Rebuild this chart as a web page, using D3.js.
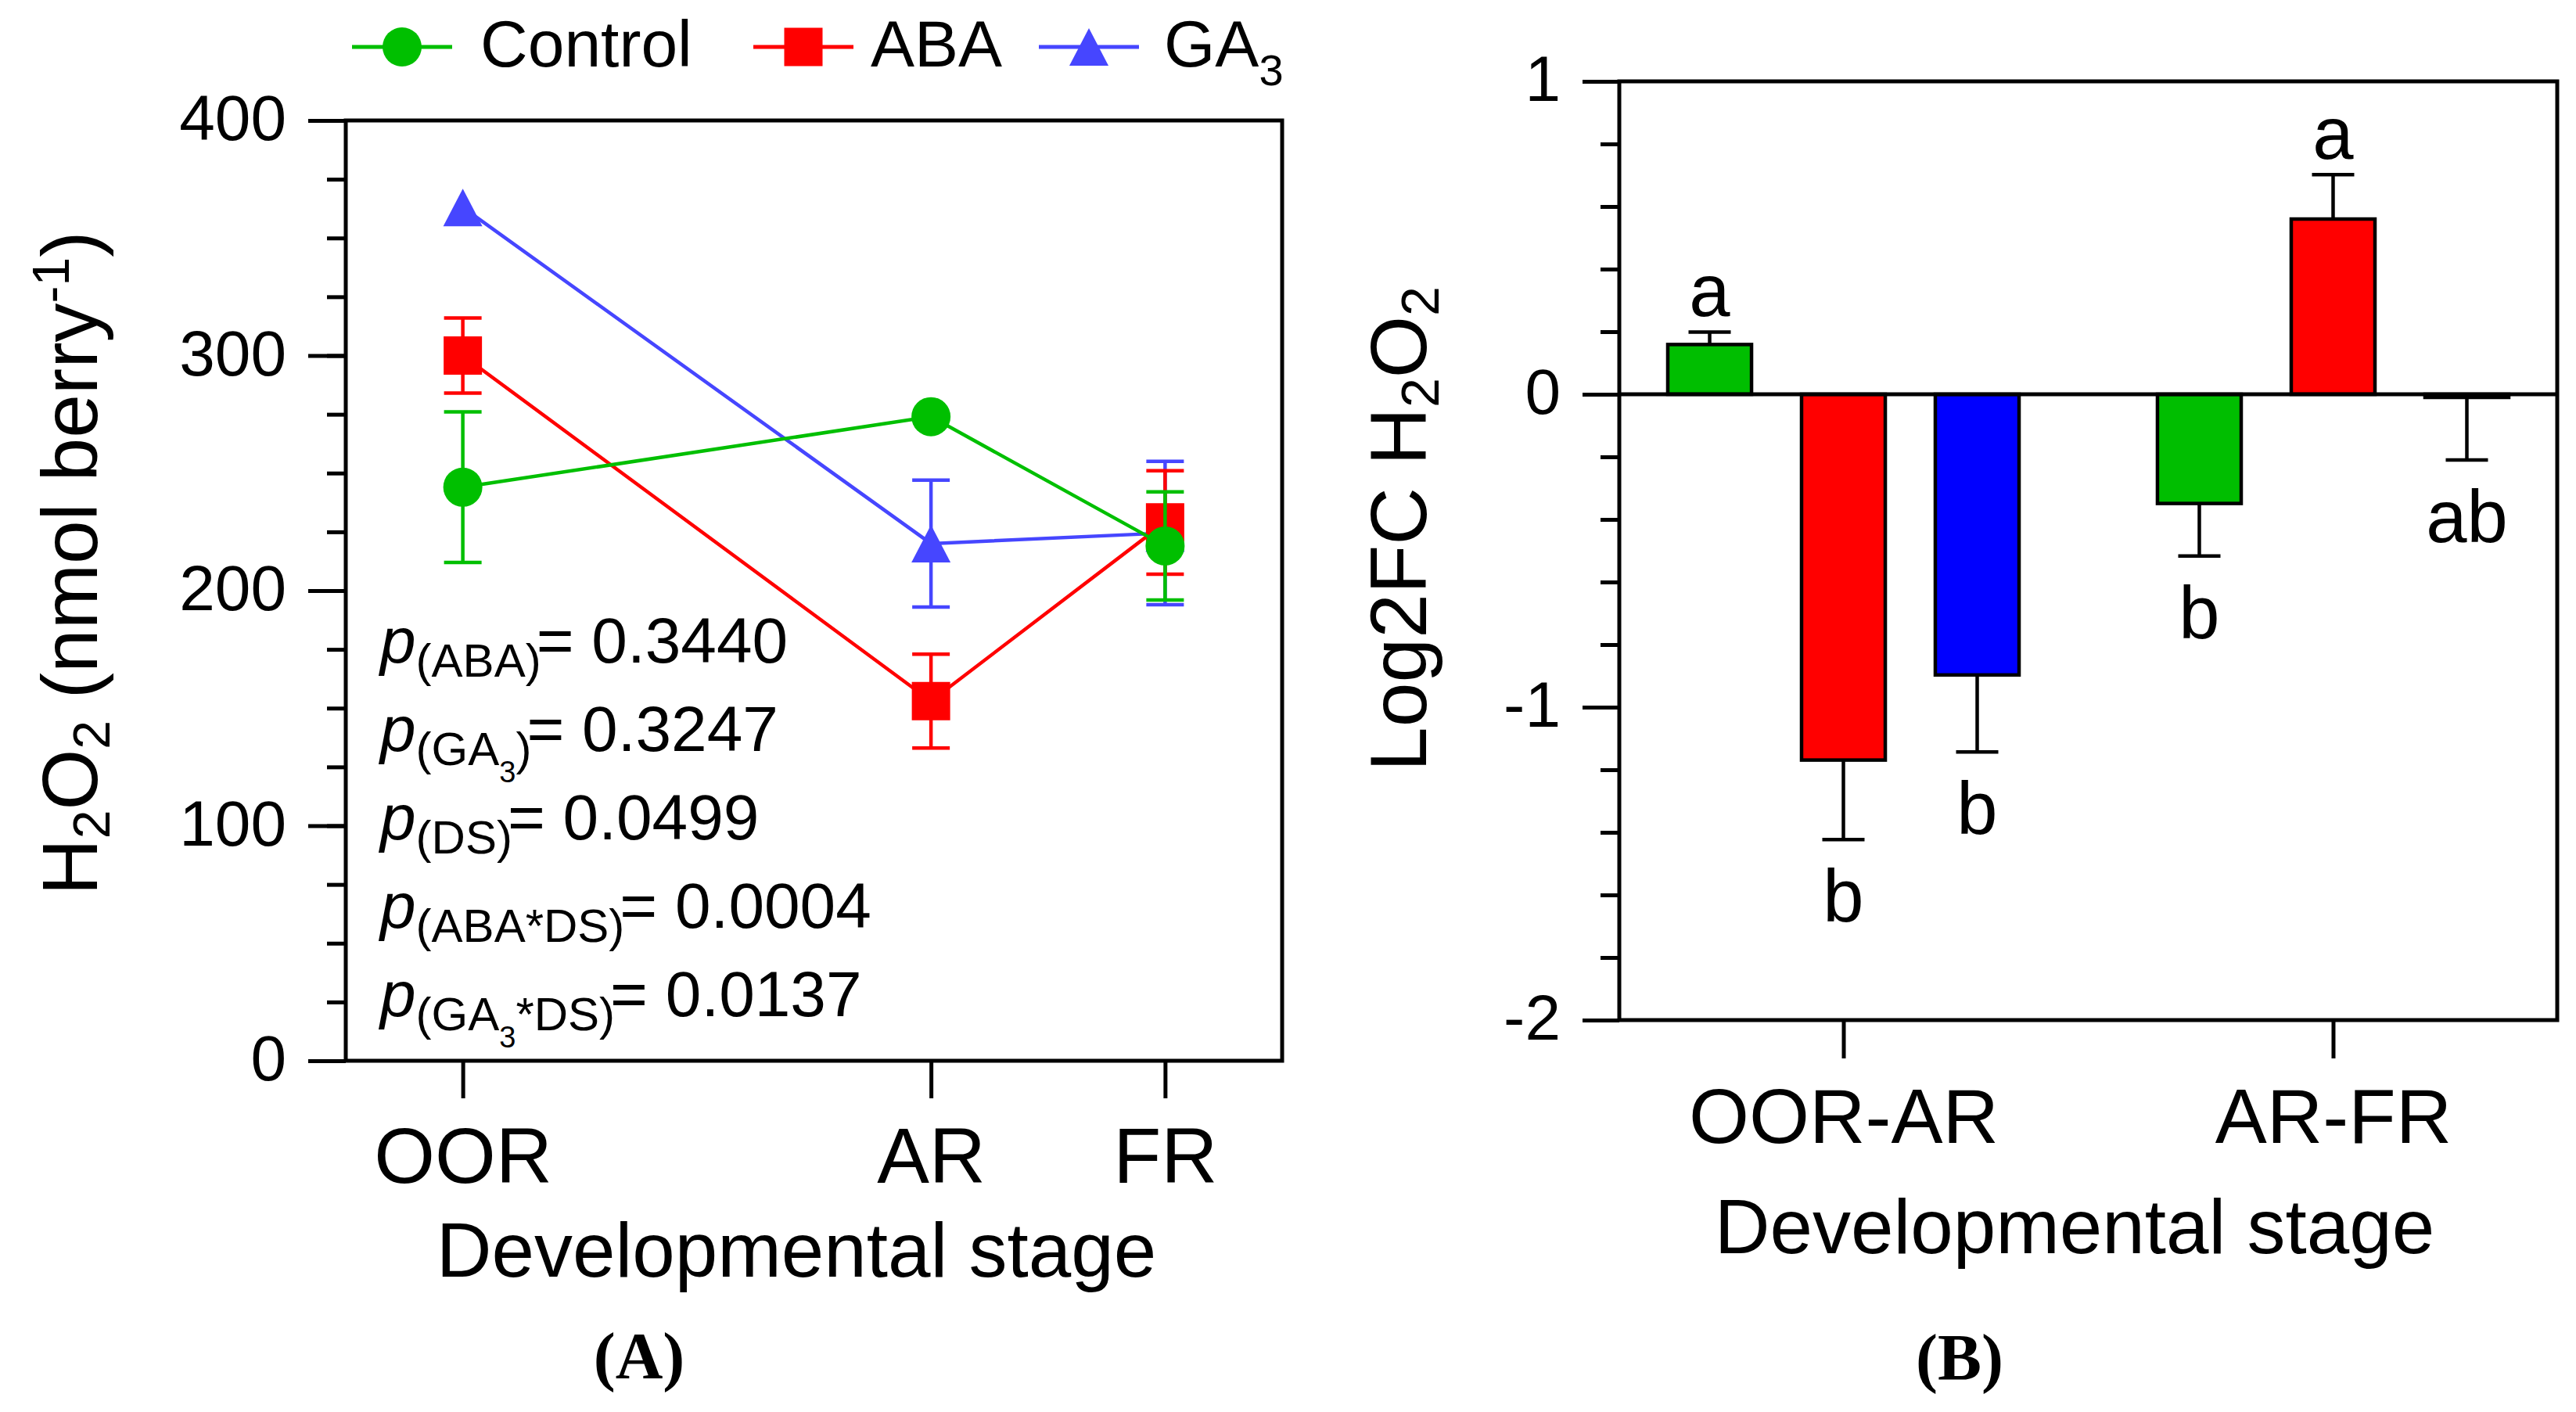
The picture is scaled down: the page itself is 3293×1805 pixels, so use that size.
<!DOCTYPE html>
<html><head><meta charset="utf-8">
<script src="https://cdn.jsdelivr.net/npm/d3@7"></script>
<style>
body{margin:0;background:#fff}
svg{font-family:"Liberation Sans",Arial,sans-serif}
</style>
</head><body>
<svg id="c" width="3293" height="1805" xmlns="http://www.w3.org/2000/svg"></svg>
<script>
// ---------- data: panel A ----------
const stages = ["OOR", "AR", "FR"];
const stagePos = [0, 2, 3];            // relative position of the developmental stages
const seriesNames = ["Control", "ABA", "GA3"];
const controlMean = [244, 274, 219];
const controlErr  = [32, 0, 23];
const abaMean     = [300, 153, 229];
const abaErr      = [16, 20, 22];
const ga3Mean     = [363, 220, 224.5];
const ga3Err      = [0, 27, 30.5];
const yTicksA = [0, 100, 200, 300, 400];
const pTerms  = ["(ABA)", "(GA3)", "(DS)", "(ABA*DS)", "(GA3*DS)"];
const pValues = ["0.3440", "0.3247", "0.0499", "0.0004", "0.0137"];

// ---------- data: panel B ----------
const intervals = ["OOR-AR", "AR-FR"];
const fcControl    = [0.159, -0.349];
const fcControlErr = [0.040, 0.168];
const fcABA        = [-1.169, 0.560];
const fcABAErr     = [0.254, 0.142];
const fcGA3        = [-0.897, -0.010];
const fcGA3Err     = [0.246, 0.200];
const lettersControl = ["a", "b"];
const lettersABA     = ["b", "a"];
const lettersGA3     = ["b", "ab"];
const yTicksB = [-2, -1, 0, 1];

const svg = d3.select("#c");
const lineColA = {Control: "#00bf00", ABA: "#ff0000", GA3: "#4646ff"};
const barColB  = {Control: "#00be00", ABA: "#ff0000", GA3: "#0000ff"};
const AX = 5;

// custom triangle symbol (bbox centred)
const triSym = {draw(ctx, size) { const w = Math.sqrt(size); ctx.moveTo(0, -w*0.48); ctx.lineTo(w*0.5, w*0.48); ctx.lineTo(-w*0.5, w*0.48); ctx.closePath(); }};
const symTypes = {Control: d3.symbolCircle, ABA: d3.symbolSquare, GA3: triSym};
const symSizes = {Control: Math.PI*25*25, ABA: 49*49, GA3: 50*50};

// ================= PANEL A =================
const xA = d3.scaleLinear().domain([-0.5, 3.5]).range([442, 1639]);
const yA = d3.scaleLinear().domain([0, 400]).range([1356, 154]);
const gA = svg.append("g");

function styleAxis(g){ g.select(".domain").remove(); g.selectAll("line").attr("stroke","#000").attr("stroke-width",AX); g.attr("font-family",null); }

gA.append("g").attr("transform",`translate(${xA.range()[0]},0)`)
  .call(d3.axisLeft(yA).tickValues(d3.range(0, 401, 25)).tickSize(24).tickFormat(""))
  .call(styleAxis);
gA.append("g").attr("transform",`translate(${xA.range()[0]},0)`)
  .call(d3.axisLeft(yA).tickValues(yTicksA).tickSize(48).tickPadding(28))
  .call(styleAxis)
  .call(g => g.selectAll("text").attr("font-size",82).attr("dy","0.3em"));
gA.append("g").attr("transform",`translate(0,${yA.range()[0]})`)
  .call(d3.axisBottom(xA).tickValues(stagePos).tickFormat((d,i)=>stages[i]).tickSize(48).tickPadding(37))
  .call(styleAxis)
  .call(g => g.selectAll("text").attr("font-size",100));
gA.append("rect").attr("x",xA.range()[0]).attr("y",yA.range()[1])
  .attr("width",xA.range()[1]-xA.range()[0]).attr("height",yA.range()[0]-yA.range()[1])
  .attr("fill","none").attr("stroke","#000").attr("stroke-width",AX);

const seriesA = [
  {name:"GA3", mean:ga3Mean, err:ga3Err},
  {name:"ABA", mean:abaMean, err:abaErr},
  {name:"Control", mean:controlMean, err:controlErr}
];
const line = d3.line().x((d,i)=>xA(stagePos[i])).y(d=>yA(d));
seriesA.forEach(s => {
  const g = gA.append("g");
  const c = lineColA[s.name];
  g.append("path").attr("d", line(s.mean)).attr("fill","none").attr("stroke",c).attr("stroke-width",4.5);
  s.mean.forEach((m,i) => {
    if (!(s.err[i] > 0)) return;
    const cx = xA(stagePos[i]), y1 = yA(m - s.err[i]), y2 = yA(m + s.err[i]);
    g.append("line").attr("x1",cx).attr("x2",cx).attr("y1",y1).attr("y2",y2).attr("stroke",c).attr("stroke-width",4.5);
    [y1,y2].forEach(yy => g.append("line").attr("x1",cx-24).attr("x2",cx+24).attr("y1",yy).attr("y2",yy).attr("stroke",c).attr("stroke-width",4.5));
  });
  s.mean.forEach((m,i) => {
    g.append("path").attr("d", d3.symbol().type(symTypes[s.name]).size(symSizes[s.name])())
      .attr("transform",`translate(${xA(stagePos[i])},${yA(m)})`).attr("fill",c);
  });
});

// p-value annotations: p(term)= value, term subscripted, the 3 of GA3 a further subscript
pTerms.forEach((term, i) => {
  const t = gA.append("text").attr("x", 486).attr("y", 847 + i*113).attr("font-size", 82);
  t.append("tspan").attr("font-style","italic").text("p");
  const parts = term.split(/(3)/).filter(p => p !== "");
  let cur = 0;           // current baseline shift relative to the main baseline
  parts.forEach((p, k) => {
    const target = p === "3" ? 40 : 18;
    const ts = t.append("tspan").attr("font-size", p === "3" ? 38 : 60).attr("dy", target - cur).text(p);
    cur = target;
  });
  t.append("tspan").attr("font-size",82).attr("dy",-cur).attr("dx",-6).text("= " + pValues[i]);
});

// axis titles A
gA.append("text").attr("x", 1018).attr("y", 1632).attr("text-anchor","middle").attr("font-size",98).text("Developmental stage");
const tyA = gA.append("text").attr("transform","translate(124,720) rotate(-90)").attr("text-anchor","middle").attr("font-size",100);
tyA.append("tspan").text("H");
tyA.append("tspan").attr("font-size",66).attr("dy",16).text("2");
tyA.append("tspan").attr("dy",-16).text("O");
tyA.append("tspan").attr("font-size",66).attr("dy",16).text("2");
tyA.append("tspan").attr("dy",-16).text(" (nmol berry");
tyA.append("tspan").attr("font-size",66).attr("dy",-36).text("-1");
tyA.append("tspan").attr("dy",36).text(")");

// legend
const legX = {Control: 514, ABA: 1027, GA3: 1392};
const legTextOff = {Control: 100, ABA: 86, GA3: 96};
seriesNames.forEach(n => {
  const c = lineColA[n], cx = legX[n];
  svg.append("line").attr("x1",cx-64).attr("x2",cx+64).attr("y1",60).attr("y2",60).attr("stroke",c).attr("stroke-width",5);
  svg.append("path").attr("d", d3.symbol().type(symTypes[n]).size(symSizes[n])()).attr("transform",`translate(${cx},60)`).attr("fill",c);
  const t = svg.append("text").attr("x", cx + legTextOff[n]).attr("y", 85).attr("font-size", 84);
  if (n === "GA3") { t.append("tspan").text("GA"); t.append("tspan").attr("font-size",56).attr("dy",24).text("3"); }
  else t.text(n);
});

// panel label
svg.append("text").attr("x",817).attr("y",1762).attr("text-anchor","middle")
  .attr("font-family","'Liberation Serif', 'Times New Roman', serif").attr("font-weight","bold").attr("font-size",84).text("(A)");

// ================= PANEL B =================
const xB = d3.scalePoint().domain(intervals).range([2070, 3269]).padding(0.4577);
const inner = d3.scaleBand().domain(seriesNames).range([-256.5, 256.5]).paddingInner(0.374).paddingOuter(0.187);
const yB = d3.scaleLinear().domain([-2, 1]).range([1304, 104]);
const gB = svg.append("g");

gB.append("g").attr("transform",`translate(${xB.range()[0]},0)`)
  .call(d3.axisLeft(yB).tickValues(d3.range(-2, 1.001, 0.2)).tickSize(24).tickFormat(""))
  .call(styleAxis);
gB.append("g").attr("transform",`translate(${xB.range()[0]},0)`)
  .call(d3.axisLeft(yB).tickValues(yTicksB).tickSize(47).tickPadding(28).tickFormat(d => String(d)))
  .call(styleAxis)
  .call(g => g.selectAll("text").attr("font-size",82).attr("dy","0.3em"));
gB.append("g").attr("transform",`translate(0,${yB.range()[0]})`)
  .call(d3.axisBottom(xB).tickSize(49).tickPadding(38))
  .call(styleAxis)
  .call(g => g.selectAll("text").attr("font-size",99));
gB.append("rect").attr("x",xB.range()[0]).attr("y",yB.range()[1])
  .attr("width",xB.range()[1]-xB.range()[0]).attr("height",yB.range()[0]-yB.range()[1])
  .attr("fill","none").attr("stroke","#000").attr("stroke-width",AX);

const seriesB = [
  {name:"Control", v:fcControl, e:fcControlErr, L:lettersControl},
  {name:"ABA", v:fcABA, e:fcABAErr, L:lettersABA},
  {name:"GA3", v:fcGA3, e:fcGA3Err, L:lettersGA3}
];
const bw = inner.bandwidth();
seriesB.forEach(s => {
  s.v.forEach((v, i) => {
    const cx = xB(intervals[i]) + inner(s.name) + bw/2;
    const sign = v >= 0 ? 1 : -1;
    const yEnd = yB(v), yErr = yB(v + sign*s.e[i]);
    gB.append("line").attr("x1",cx).attr("x2",cx).attr("y1",yEnd).attr("y2",yErr).attr("stroke","#000").attr("stroke-width",4.5);
    gB.append("line").attr("x1",cx-27).attr("x2",cx+27).attr("y1",yErr).attr("y2",yErr).attr("stroke","#000").attr("stroke-width",4.5);
    gB.append("rect").attr("x", cx - bw/2).attr("y", yB(Math.max(0, v)))
      .attr("width", bw).attr("height", Math.abs(yB(v) - yB(0)))
      .attr("fill", barColB[s.name]).attr("stroke","#000").attr("stroke-width",4.5);
    gB.append("text").attr("x", cx).attr("y", sign > 0 ? yErr - 20 : yErr + 105)
      .attr("text-anchor","middle").attr("font-size",94).text(s.L[i]);
  });
});
gB.append("line").attr("x1",xB.range()[0]).attr("x2",xB.range()[1]).attr("y1",yB(0)).attr("y2",yB(0)).attr("stroke","#000").attr("stroke-width",AX);

gB.append("text").attr("x", 2652).attr("y", 1602).attr("text-anchor","middle").attr("font-size",98).text("Developmental stage");
const tyB = gB.append("text").attr("transform","translate(1823,676) rotate(-90)").attr("text-anchor","middle").attr("font-size",102);
tyB.append("tspan").text("Log2FC H");
tyB.append("tspan").attr("font-size",68).attr("dy",16).text("2");
tyB.append("tspan").attr("dy",-16).text("O");
tyB.append("tspan").attr("font-size",68).attr("dy",16).text("2");

svg.append("text").attr("x",2505).attr("y",1764).attr("text-anchor","middle")
  .attr("font-family","'Liberation Serif', 'Times New Roman', serif").attr("font-weight","bold").attr("font-size",84).text("(B)");
</script>
</body></html>
